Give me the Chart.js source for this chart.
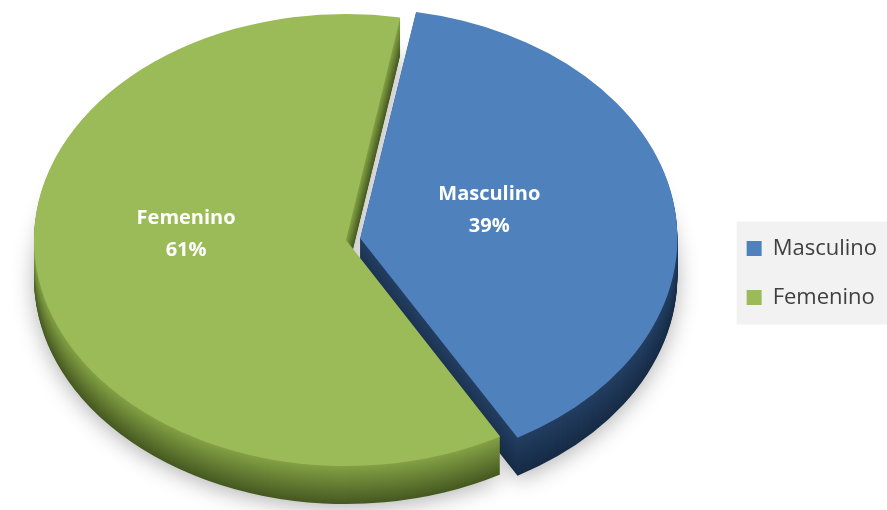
<!DOCTYPE html>
<html>
<head>
<meta charset="utf-8">
<script src="https://cdn.jsdelivr.net/npm/chart.js@4.4.0/dist/chart.umd.min.js"></script>
<style>
  html, body { margin: 0; padding: 0; background: #fff; }
  #wrap { width: 887px; height: 510px; position: relative; }
</style>
</head>
<body>
<div id="wrap"><canvas id="canvas"></canvas></div>
<script>
/* global Chart */

// Chart data
const categories = ["Masculino", "Femenino"];
const percentages = [39, 61];

// Colours: top face and the side wall (near edge -> bottom)
const topColors = ["#4f81bd", "#9bbb59"];
const sideTop = [[36, 63, 98], [132, 162, 70]];
const sideBottom = [[22, 43, 70], [70, 89, 33]];

// Where the tilted pie sits on the page
const view = { x: 346, y: 240, rx: 312, ry: 226, depth: 38 };

// Label placement (fraction of radius, vertical nudge)
const labelRadius = [0.42, 0.52];
const labelNudge = [-12, -26];

function mix(a, b, t) {
  return "rgb(" + a.map((v, i) => Math.round(v + (b[i] - v) * t)).join(",") + ")";
}

// Squash the round pie into an ellipse, optionally pushed down for the side wall
function applyView(chart, ctx, shift) {
  const arc = chart.getDatasetMeta(0).data[0];
  const r = arc.outerRadius;
  ctx.translate(view.x, view.y + shift);
  ctx.scale(view.rx / r, view.ry / r);
  ctx.translate(-arc.x, -arc.y);
}

const pie3d = {
  id: "pie3d",
  beforeDraw(chart) {
    // grey box behind the legend
    const boxes = chart.legend.legendHitBoxes;
    if (!boxes || !boxes.length) return;
    const ctx = chart.ctx;
    const first = boxes[0];
    const last = boxes[boxes.length - 1];
    ctx.save();
    ctx.fillStyle = "#f2f2f2";
    ctx.fillRect(first.left - 10, first.top - 16, chart.width - first.left + 10, last.top + last.height - first.top + 32);
    ctx.restore();
  },
  beforeDatasetsDraw(chart) {
    const ctx = chart.ctx;
    const arcs = chart.getDatasetMeta(0).data;
    for (let k = view.depth; k >= 1; k--) {
      const t = k / view.depth;
      ctx.save();
      applyView(chart, ctx, k);
      if (k === view.depth) {
        ctx.shadowColor = "rgba(0,0,0,0.3)";
        ctx.shadowBlur = 22;
        ctx.shadowOffsetY = 4;
      }
      arcs.forEach((arc, i) => {
        const ghost = new Chart.ArcElement({
          x: arc.x,
          y: arc.y,
          startAngle: arc.startAngle,
          endAngle: arc.endAngle,
          innerRadius: arc.innerRadius,
          outerRadius: arc.outerRadius,
          circumference: arc.circumference
        });
        ghost.options = Object.assign({}, arc.options, {
          backgroundColor: mix(sideTop[i], sideBottom[i], t),
          borderWidth: 0
        });
        ghost.draw(ctx);
      });
      ctx.restore();
    }
    ctx.save();
    applyView(chart, ctx, 0);
  },
  afterDatasetsDraw(chart) {
    const ctx = chart.ctx;
    ctx.restore();

    // data labels
    const arcs = chart.getDatasetMeta(0).data;
    const ref = arcs[0];
    const r = ref.outerRadius;
    ctx.save();
    ctx.fillStyle = "#ffffff";
    ctx.font = "bold 20px 'Open Sans'";
    ctx.textAlign = "center";
    ctx.textBaseline = "middle";
    arcs.forEach((arc, i) => {
      const mid = (arc.startAngle + arc.endAngle) / 2;
      const push = (arc.options.offset || 0) / 4;
      const dist = push + labelRadius[i] * r;
      const px = Math.cos(mid) * dist;
      const py = Math.sin(mid) * dist;
      const x = view.x + px * view.rx / r;
      const y = view.y + py * view.ry / r + labelNudge[i];
      ctx.fillText(categories[i], x, y - 16);
      ctx.fillText(percentages[i] + "%", x, y + 16);
    });
    ctx.restore();
  }
};

Chart.defaults.font.family = "'Open Sans', sans-serif";

const config = {
  type: "pie",
  data: {
    labels: categories,
    datasets: [
      {
        data: percentages,
        backgroundColor: topColors,
        borderWidth: 0,
        offset: [40, 0],
        clip: false
      }
    ]
  },
  options: {
    responsive: true,
    maintainAspectRatio: false,
    animation: false,
    events: [],
    rotation: 10,
    layout: { padding: { top: 36 } },
    plugins: {
      tooltip: { enabled: false },
      legend: {
        position: "right",
        labels: {
          boxWidth: 15,
          boxHeight: 15,
          padding: 27,
          color: "#404040",
          font: { size: 22 }
        }
      }
    }
  },
  plugins: [pie3d]
};

const ctx = document.getElementById("canvas").getContext("2d");
window.myPie = new Chart(ctx, config);
</script>
</body>
</html>
